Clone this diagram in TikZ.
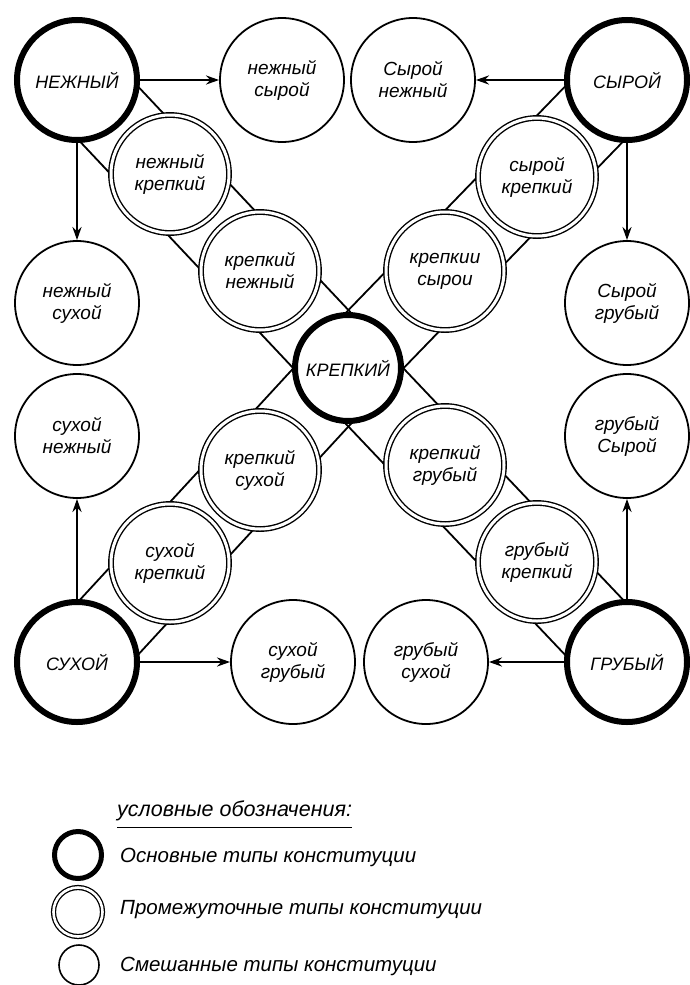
\documentclass[tikz,border=0pt]{standalone}
\usepackage{fontspec}
\setmainfont{Liberation Sans}
\usetikzlibrary{arrows.meta,calc,backgrounds}

\begin{document}
\begin{tikzpicture}[x=1pt,y=1pt,yscale=-1,
  basic/.style={circle,draw,fill=white,line width=6pt,minimum size=120pt,inner sep=0pt,
    font=\itshape\fontsize{18}{21}\selectfont},
  inter/.style={circle,draw,fill=white,line width=1.4pt,double=white,double distance=3pt,
    minimum size=118pt,inner sep=0pt,align=center,font=\itshape\fontsize{19}{22}\selectfont},
  mixed/.style={circle,draw,fill=white,line width=1.8pt,minimum size=124pt,inner sep=0pt,
    align=center,font=\itshape\fontsize{19}{22}\selectfont},
  band/.style={line width=1.8pt},
  arr/.style={line width=2.6pt,-{Stealth[length=13pt,width=9pt]}},
  legtext/.style={anchor=west,inner sep=0pt,font=\itshape\fontsize{20.5}{23}\selectfont}]
\useasboundingbox (0,0) rectangle (690,985);

% basic types
\node[basic] (nez) at (77,80) {НЕЖНЫЙ};
\node[basic] (syr) at (627,80) {СЫРОЙ};
\node[basic] (suh) at (77,662) {СУХОЙ};
\node[basic] (gru) at (627,662) {ГРУБЫЙ};
\node[basic,minimum size=106pt] (kre) at (348,368) {КРЕПКИЙ};

% intermediate types
\node[inter] (nezkre) at (170,174) {нежный\\крепкий};
\node[inter] (krenez) at (260,271) {крепкий\\нежный};
\node[inter] (syrkre) at (537,177) {сырой\\крепкий};
\node[inter] (kresyr) at (445,271) {крепкии\\сырои};
\node[inter] (kresuh) at (260,470) {крепкий\\сухой};
\node[inter] (suhkre) at (170,563) {сухой\\крепкий};
\node[inter] (kregru) at (445,465) {крепкий\\грубый};
\node[inter] (grukre) at (537,562) {грубый\\крепкий};

% mixed types
\node[mixed] (nezsyr) at (282,80) {нежный\\сырой};
\node[mixed] (syrnez) at (413,80) {Сырой\\нежный};
\node[mixed] (nezsuh) at (77,303) {нежный\\сухой};
\node[mixed] (suhnez) at (77,436) {сухой\\нежный};
\node[mixed] (syrgru) at (627,303) {Сырой\\грубый};
\node[mixed] (grusyr) at (627,436) {грубый\\Сырой};
\node[mixed] (suhgru) at (293,662) {сухой\\грубый};
\node[mixed] (grusuh) at (426,662) {грубый\\сухой};

% arrows
\draw[arr] (nez) -- (nezsyr);
\draw[arr] (nez) -- (nezsuh);
\draw[arr] (syr) -- (syrnez);
\draw[arr] (syr) -- (syrgru);
\draw[arr] (suh) -- (suhnez);
\draw[arr] (suh) -- (suhgru);
\draw[arr] (gru) -- (grusyr);
\draw[arr] (gru) -- (grusuh);

% bands to the centre
\begin{pgfonlayer}{background}
\foreach \corner in {nez,syr,suh,gru}{
  \draw[band] ($(\corner)!40pt!90:(kre)$) -- ($(kre)!40pt!-90:(\corner)$);
  \draw[band] ($(\corner)!40pt!-90:(kre)$) -- ($(kre)!40pt!90:(\corner)$);
}
\end{pgfonlayer}

% legend
\node[legtext,font=\itshape\fontsize{21.5}{24}\selectfont] (legtitle) at (117,811) {условные обозначения:};
\draw[line width=1.4pt] ([yshift=6pt]legtitle.south west) -- ([yshift=6pt]legtitle.south east);
\node[circle,draw,line width=5pt,minimum size=47pt,inner sep=0pt] (legbasic) at (78,855) {};
\node[circle,draw,line width=1.3pt,double=white,double distance=2.6pt,minimum size=49pt,inner sep=0pt] (leginter) at (78,912) {};
\node[circle,draw,line width=1.6pt,minimum size=40pt,inner sep=0pt] (legmixed) at (79,965) {};
\node[legtext] (legtextbasic) at (120,857) {Основные типы конституции};
\node[legtext] (legtextinter) at (120,910) {Промежуточные типы конституции};
\node[legtext] (legtextmixed) at (120,966) {Смешанные типы конституции};
\end{tikzpicture}
\end{document}
